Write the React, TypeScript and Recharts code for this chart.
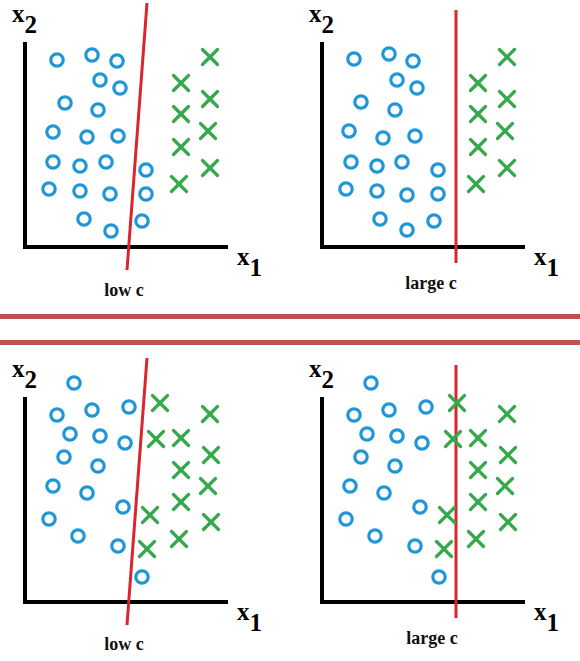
import { ReferenceLine, Scatter, ScatterChart, XAxis, YAxis } from "recharts";

// all values are in pixel-like units measured from each panel's axis origin
const topLeftCircles = [
  { x: 32, y: 187 }, { x: 67, y: 192 }, { x: 92, y: 186 }, { x: 75, y: 167 }, { x: 95, y: 159 },
  { x: 40, y: 144 }, { x: 73, y: 137 }, { x: 28, y: 115 }, { x: 62, y: 110 }, { x: 93, y: 111 },
  { x: 28, y: 85 }, { x: 55, y: 81 }, { x: 81, y: 85 }, { x: 121, y: 77 }, { x: 24, y: 58 },
  { x: 55, y: 56 }, { x: 85, y: 53 }, { x: 121, y: 53 }, { x: 59, y: 28 }, { x: 86, y: 16 },
  { x: 117, y: 26 },
];

const topRightCircles = [
  { x: 32, y: 188 }, { x: 67, y: 193 }, { x: 91, y: 186 }, { x: 75, y: 167 }, { x: 95, y: 159 },
  { x: 39, y: 145 }, { x: 73, y: 137 }, { x: 27, y: 116 }, { x: 61, y: 109 }, { x: 93, y: 111 },
  { x: 29, y: 85 }, { x: 55, y: 81 }, { x: 80, y: 85 }, { x: 116, y: 77 }, { x: 24, y: 58 },
  { x: 55, y: 56 }, { x: 85, y: 52 }, { x: 116, y: 53 }, { x: 58, y: 28 }, { x: 85, y: 17 },
  { x: 112, y: 26 },
];

const topCrosses = [
  { x: 185, y: 190 }, { x: 156, y: 164 }, { x: 185, y: 148 }, { x: 156, y: 133 },
  { x: 183, y: 116 }, { x: 156, y: 100 }, { x: 185, y: 79 }, { x: 154, y: 63 },
];

const bottomCircles = [
  { x: 49, y: 219 }, { x: 32, y: 187 }, { x: 67, y: 192 }, { x: 104, y: 195 }, { x: 45, y: 168 },
  { x: 75, y: 166 }, { x: 100, y: 159 }, { x: 39, y: 145 }, { x: 73, y: 136 }, { x: 28, y: 116 },
  { x: 62, y: 109 }, { x: 98, y: 95 }, { x: 24, y: 83 }, { x: 53, y: 66 }, { x: 93, y: 56 },
  { x: 117, y: 25 },
];

const bottomCrosses = [
  { x: 135, y: 199 }, { x: 185, y: 188 }, { x: 131, y: 163 }, { x: 156, y: 164 },
  { x: 186, y: 147 }, { x: 156, y: 132 }, { x: 183, y: 116 }, { x: 156, y: 100 },
  { x: 125, y: 87 }, { x: 186, y: 80 }, { x: 154, y: 63 }, { x: 122, y: 53 },
];

const lowCLine = [{ x: 122, y: 244 }, { x: 102, y: -23 }];
const largeCLine = [{ x: 134, y: 237 }, { x: 134, y: -16 }];

const xAxisEnd = 203;
const yAxisEnd = 205;

const BLUE = "#1f97d6";
const GREEN = "#35a84b";
const RED = "#d8262c";
const RULE = "#c0504d";
const SERIF = "Liberation Serif, DejaVu Serif, serif";

type Pt = { x: number; y: number };

const Ring = (p: any) => (
  <circle cx={p.cx} cy={p.cy} r={6.2} fill="none" stroke={BLUE} strokeWidth={3.2} />
);

const Cross = (p: any) => {
  const s = 7.5;
  return (
    <g stroke={GREEN} strokeWidth={3.2} strokeLinecap="round">
      <line x1={p.cx - s} y1={p.cy - s} x2={p.cx + s} y2={p.cy + s} />
      <line x1={p.cx - s} y1={p.cy + s} x2={p.cx + s} y2={p.cy - s} />
    </g>
  );
};

const textStyle = { fontFamily: SERIF, fontWeight: 700 };

function Panel({
  left, top, width, height, ox, oy, circles, crosses, line, label, labelDx, labelDy,
}: {
  left: number; top: number; width: number; height: number; ox: number; oy: number;
  circles: Pt[]; crosses: Pt[]; line: Pt[]; label: string; labelDx: number; labelDy: number;
}) {
  const x0 = ox - left;
  const y0 = oy - top;
  return (
    <div style={{ position: "absolute", left, top, width, height }}>
      <ScatterChart width={width} height={height} margin={{ top: 0, right: 0, bottom: 0, left: 0 }}>
        <XAxis type="number" dataKey="x" domain={[-x0, width - x0]} allowDataOverflow hide />
        <YAxis type="number" dataKey="y" domain={[y0 - height, y0]} allowDataOverflow hide />
        <ReferenceLine segment={[{ x: 0, y: 0 }, { x: 0, y: yAxisEnd }]} stroke="#000" strokeWidth={4} />
        <ReferenceLine segment={[{ x: -2, y: 0 }, { x: xAxisEnd, y: 0 }]} stroke="#000" strokeWidth={4} />
        <Scatter data={circles} shape={Ring} isAnimationActive={false} />
        <Scatter data={crosses} shape={Cross} isAnimationActive={false} />
        <ReferenceLine segment={[line[0], line[1]]} stroke={RED} strokeWidth={3} />
      </ScatterChart>
      <svg
        width={width}
        height={height}
        style={{ position: "absolute", left: 0, top: 0, pointerEvents: "none" }}
      >
        <text x={x0 - 13} y={y0 - 225} fontSize={25} fill="#000" style={textStyle}>
          x<tspan dy={11}>2</tspan>
        </text>
        <text x={x0 + 212} y={y0 + 18} fontSize={25} fill="#000" style={textStyle}>
          x<tspan dy={11}>1</tspan>
        </text>
        <text x={x0 + labelDx} y={y0 + labelDy} fontSize={18} textAnchor="middle" fill="#111" style={textStyle}>
          {label}
        </text>
      </svg>
    </div>
  );
}

export default function App() {
  return (
    <div style={{ position: "absolute", left: 0, top: 0, width: 580, height: 661, background: "#fff" }}>
      <Panel left={0} top={0} width={290} height={300} ox={25} oy={247}
        circles={topLeftCircles} crosses={topCrosses} line={lowCLine} label="low c" labelDx={99} labelDy={49} />
      <Panel left={290} top={0} width={290} height={300} ox={322} oy={247}
        circles={topRightCircles} crosses={topCrosses} line={largeCLine} label="large c" labelDx={109} labelDy={42} />
      <div style={{ position: "absolute", left: 0, top: 314, width: 580, height: 5, background: RULE }} />
      <div style={{ position: "absolute", left: 0, top: 340, width: 580, height: 5, background: RULE }} />
      <Panel left={0} top={345} width={290} height={316} ox={25} oy={602}
        circles={bottomCircles} crosses={bottomCrosses} line={lowCLine} label="low c" labelDx={99} labelDy={48} />
      <Panel left={290} top={345} width={290} height={316} ox={322} oy={602}
        circles={bottomCircles} crosses={bottomCrosses} line={largeCLine} label="large c" labelDx={110} labelDy={42} />
    </div>
  );
}
